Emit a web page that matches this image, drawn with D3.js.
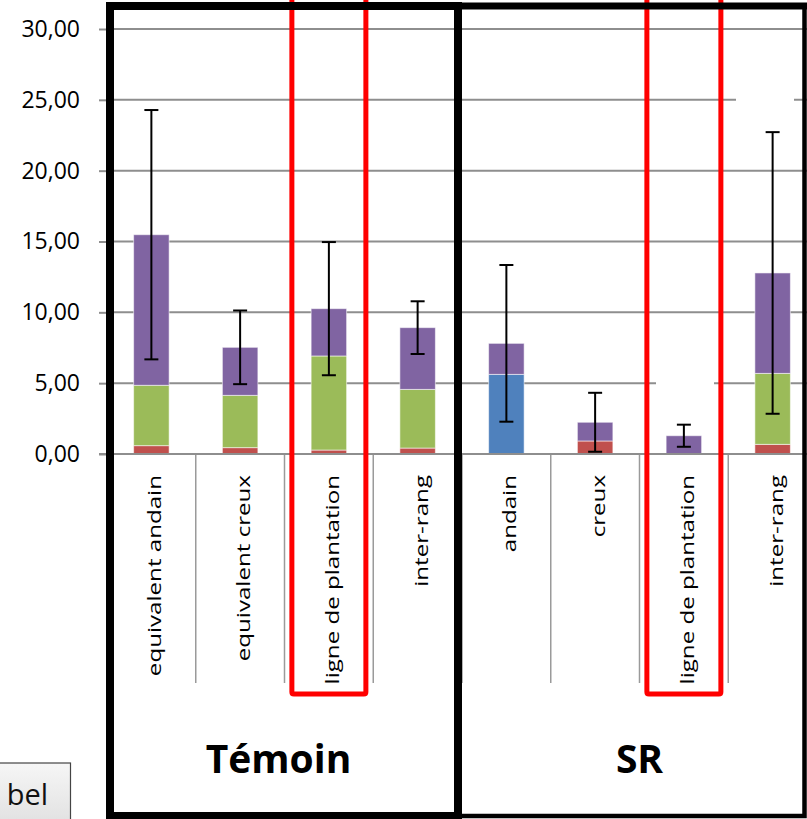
<!DOCTYPE html>
<html>
<head>
<meta charset="utf-8">
<script src="https://cdn.jsdelivr.net/npm/d3@7"></script>
<style>
  body { margin: 0; background: #fff; overflow: hidden; }
  svg { display: block; }
</style>
</head>
<body>
<div id="container"></div>
<script>
/* DATA */
const categories = ["equivalent andain", "equivalent creux", "ligne de plantation", "inter-rang",
                    "andain", "creux", "ligne de plantation ", "inter-rang "]
const groups = ["Témoin", "SR"]
const rouge  = [0.59, 0.45, 0.28, 0.42, 0.00, 0.92, 0.00, 0.68]
const bleu   = [0.00, 0.00, 0.00, 0.00, 5.62, 0.00, 0.00, 0.00]
const vert   = [4.26, 3.69, 6.64, 4.14, 0.00, 0.00, 0.00, 5.01]
const violet = [10.63, 3.39, 3.34, 4.36, 2.19, 1.32, 1.29, 7.09]
const erreur = [8.80, 2.60, 4.70, 1.86, 5.53, 2.08, 0.78, 9.94]
const yTicks = [0, 5, 10, 15, 20, 25, 30]
const highlighted = [2, 6]   // "ligne de plantation" columns

/* CONSTANTS */
const width = 807, height = 819
const plot = { left: 107, right: 817, top: 29, bottom: 454 }

const data = categories.map((c, i) => ({
  cat: c, rouge: rouge[i], bleu: bleu[i], vert: vert[i], violet: violet[i], err: erreur[i]
}))

/* SCALES */
const xScale = d3.scaleBand()
  .domain(categories)
  .range([plot.left, plot.right])
  .paddingInner(0.6)
  .paddingOuter(0.3)

const yScale = d3.scaleLinear()
  .domain([0, 30])
  .range([plot.bottom, plot.top])

const colorScale = d3.scaleOrdinal()
  .domain(["rouge", "bleu", "vert", "violet"])
  .range(["#C0504D", "#4F81BD", "#9BBB59", "#8064A2"])

const step = xScale.step()
const bandStart = i => plot.left + i * step
const center = c => xScale(c) + xScale.bandwidth() / 2

/* SVG */
const svg = d3.select("#container")
  .append("svg")
  .attr("width", width)
  .attr("height", height)
  .style("font-family", "'Open Sans', sans-serif")

// gridlines
svg.append("g")
  .selectAll("line")
  .data(yTicks)
  .join("line")
  .attr("x1", plot.left)
  .attr("x2", plot.right)
  .attr("y1", d => yScale(d))
  .attr("y2", d => yScale(d))
  .attr("stroke", "#8e8e8e")
  .attr("stroke-width", 2)

// small gaps in two gridlines (erased bits in the original)
svg.append("rect").attr("x", 736).attr("width", 58).attr("y", yScale(25) - 2).attr("height", 4).attr("fill", "#fff")
svg.append("rect").attr("x", 656).attr("width", 58).attr("y", yScale(5) - 2).attr("height", 4).attr("fill", "#fff")

// y axis
const yAxis = svg.append("g")
  .attr("transform", `translate(${plot.left},0)`)
  .call(d3.axisLeft(yScale)
    .tickValues(yTicks)
    .tickSize(8)
    .tickPadding(19)
    .tickFormat(d => d3.format(".2f")(d).replace(".", ",")))
yAxis.select(".domain").remove()
yAxis.selectAll(".tick line").attr("stroke", "#8e8e8e").attr("stroke-width", 2)
yAxis.selectAll(".tick text")
  .attr("fill", "#000")
  .style("font-size", "23px")
  .style("font-family", "'Open Sans', sans-serif")

// category separators
svg.append("g")
  .selectAll("line")
  .data(d3.range(1, categories.length))
  .join("line")
  .attr("x1", i => bandStart(i))
  .attr("x2", i => bandStart(i))
  .attr("y1", plot.bottom)
  .attr("y2", 683)
  .attr("stroke", "#9a9a9a")
  .attr("stroke-width", 1.5)

// stacked bars
const stack = d3.stack().keys(["rouge", "bleu", "vert", "violet"])
const series = stack(data)

svg.append("g")
  .selectAll("g")
  .data(series)
  .join("g")
  .attr("fill", d => colorScale(d.key))
  .selectAll("rect")
  .data(d => d.filter(s => s[1] - s[0] > 0))
  .join("rect")
  .attr("x", d => xScale(d.data.cat))
  .attr("width", xScale.bandwidth())
  .attr("y", d => yScale(d[1]))
  .attr("height", d => yScale(d[0]) - yScale(d[1]))
  .attr("stroke", "rgba(255,255,255,0.55)")
  .attr("stroke-width", 1)

// baseline
svg.append("line")
  .attr("x1", plot.left - 8).attr("x2", plot.right)
  .attr("y1", yScale(0)).attr("y2", yScale(0))
  .attr("stroke", "#8e8e8e").attr("stroke-width", 2)

// error bars
const total = d => d.rouge + d.bleu + d.vert + d.violet
const err = svg.append("g").attr("stroke", "#000").attr("stroke-width", 2)
data.forEach(d => {
  const cx = center(d.cat)
  const t = yScale(total(d) + d.err), b = yScale(total(d) - d.err)
  err.append("line").attr("x1", cx).attr("x2", cx).attr("y1", t).attr("y2", b)
  err.append("line").attr("x1", cx - 7).attr("x2", cx + 7).attr("y1", t).attr("y2", t)
  err.append("line").attr("x1", cx - 7).attr("x2", cx + 7).attr("y1", b).attr("y2", b)
})

// category labels (rotated, a little stretched along their length like the original)
svg.append("g")
  .selectAll("text")
  .data(categories)
  .join("text")
  .attr("transform", d => `translate(${center(d) + 10},475) rotate(-90) scale(1.27,1)`)
  .attr("text-anchor", "end")
  .style("font-size", "19px")
  .attr("fill", "#000")
  .text(d => d.trim())

// group labels
svg.append("g")
  .selectAll("text")
  .data(groups)
  .join("text")
  .attr("x", (g, i) => bandStart(i * 4) + step * 2 - (i === 0 ? 6 : 0))
  .attr("y", 773)
  .attr("text-anchor", "middle")
  .style("font-size", "39px")
  .style("font-weight", "bold")
  .attr("fill", "#000")
  .text(d => d)

// red highlight boxes
svg.append("g")
  .selectAll("path")
  .data(highlighted)
  .join("path")
  .attr("d", i => {
    const cx = center(categories[i]), w = 37
    return `M${cx - w},0 V692 Q${cx - w},694 ${cx - w + 2},694 H${cx + w - 2} Q${cx + w},694 ${cx + w},692 V0`
  })
  .attr("fill", "none")
  .attr("stroke", "#ff0000")
  .attr("stroke-width", 5)

// black frames around the two groups
svg.append("rect")
  .attr("x", 110).attr("y", 6)
  .attr("width", 458 - 110).attr("height", 816 - 6)
  .attr("fill", "none").attr("stroke", "#000").attr("stroke-width", 8)
svg.append("path")
  .attr("d", "M458,816 H804.5 V6")
  .attr("fill", "none").attr("stroke", "#000").attr("stroke-width", 4.5)
svg.append("line")
  .attr("x1", 458).attr("x2", 807).attr("y1", 6).attr("y2", 6)
  .attr("stroke", "#000").attr("stroke-width", 7)

// leftover label button at the bottom-left
const grad = svg.append("defs").append("linearGradient")
  .attr("id", "btn").attr("x1", 0).attr("x2", 0).attr("y1", 0).attr("y2", 1)
grad.append("stop").attr("offset", "0%").attr("stop-color", "#f6f6f6")
grad.append("stop").attr("offset", "100%").attr("stop-color", "#dedede")
svg.append("rect")
  .attr("x", -2).attr("y", 763).attr("width", 72.5).attr("height", 70)
  .attr("fill", "url(#btn)").attr("stroke", "#444").attr("stroke-width", 1.2)
svg.append("text")
  .attr("x", 48).attr("y", 805)
  .attr("text-anchor", "end")
  .style("font-size", "29px")
  .attr("fill", "#111")
  .text("bel")
</script>
</body>
</html>
